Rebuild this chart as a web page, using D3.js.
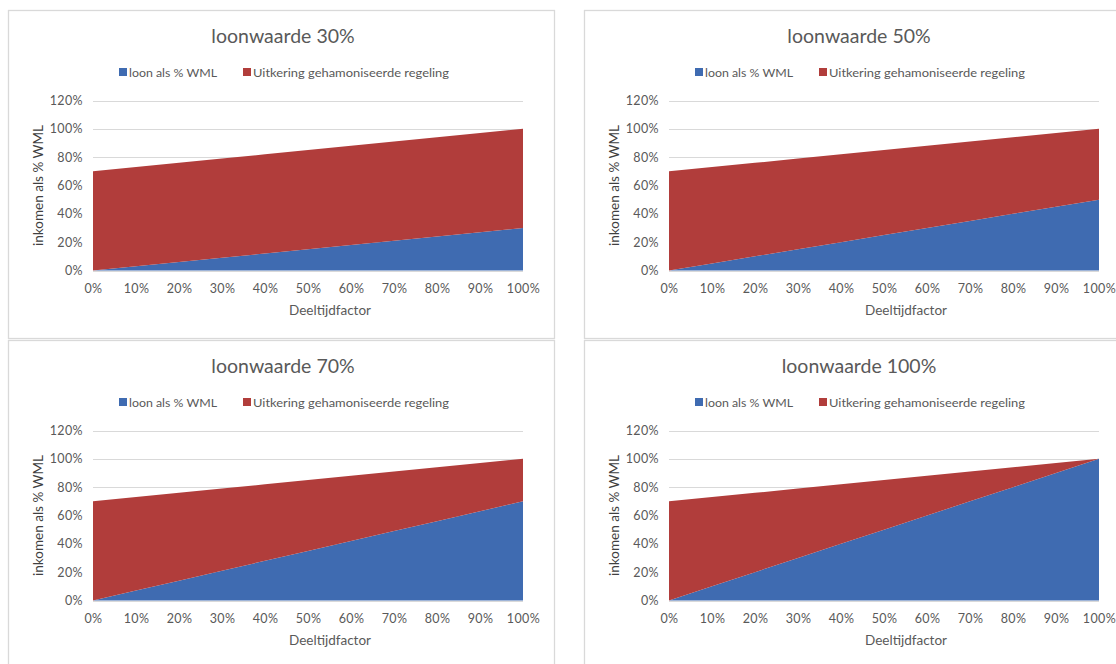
<!DOCTYPE html>
<html>
<head>
<meta charset="utf-8">
<script src="https://cdn.jsdelivr.net/npm/d3@7/dist/d3.min.js"></script>
<style>
  html, body { margin: 0; padding: 0; background: #fff; }
  svg { display: block; }
  text { font-family: Lato, "Open Sans", sans-serif; fill: #595959; }
</style>
</head>
<body>
<svg id="chart" width="1116" height="664"></svg>
<script>
// ---- data ----
const deeltijd = [0, 10, 20, 30, 40, 50, 60, 70, 80, 90, 100];
const yTicks = [0, 20, 40, 60, 80, 100, 120];
const seriesNames = ["loon als % WML", "Uitkering gehamoniseerde regeling"];
const titles = ["loonwaarde 30%", "loonwaarde 50%", "loonwaarde 70%", "loonwaarde 100%"];

const loon30  = [0, 3, 6, 9, 12, 15, 18, 21, 24, 27, 30];
const uitk30  = [70, 70, 70, 70, 70, 70, 70, 70, 70, 70, 70];
const loon50  = [0, 5, 10, 15, 20, 25, 30, 35, 40, 45, 50];
const uitk50  = [70, 68, 66, 64, 62, 60, 58, 56, 54, 52, 50];
const loon70  = [0, 7, 14, 21, 28, 35, 42, 49, 56, 63, 70];
const uitk70  = [70, 66, 62, 58, 54, 50, 46, 42, 38, 34, 30];
const loon100 = [0, 10, 20, 30, 40, 50, 60, 70, 80, 90, 100];
const uitk100 = [70, 63, 56, 49, 42, 35, 28, 21, 14, 7, 0];

const panelsData = [
  { title: titles[0], loon: loon30,  uitk: uitk30 },
  { title: titles[1], loon: loon50,  uitk: uitk50 },
  { title: titles[2], loon: loon70,  uitk: uitk70 },
  { title: titles[3], loon: loon100, uitk: uitk100 }
];

const colors = ["#3F6BB1", "#B13D3B"];

// ---- layout ----
const panelPos = [
  { x: 8,   y: 10 },
  { x: 584, y: 10 },
  { x: 8,   y: 340 },
  { x: 584, y: 340 }
];
const PW = 546, PH = 328;

const svg = d3.select("#chart");

const x = d3.scaleLinear().domain([0, 100]).range([85, 515]);
const y = d3.scaleLinear().domain([0, 120]).range([260.5, 90.5]);

panelsData.forEach((p, i) => {
  const pos = panelPos[i];
  const g = svg.append("g").attr("transform", `translate(${pos.x},${pos.y})`);

  g.append("rect").attr("x", 0.5).attr("y", 0.5).attr("width", PW).attr("height", PH)
    .attr("fill", "#fff").attr("stroke", "#D9D9D9").attr("stroke-width", 1.3);

  // title
  g.append("text").attr("x", 275).attr("y", 25).attr("text-anchor", "middle")
    .attr("dominant-baseline", "central")
    .style("font-size", "19.5px").text(p.title);

  // legend
  const leg = g.append("g").attr("transform", "translate(0,62)");
  const legX = [111, 235];
  const legW = [88, 196];
  seriesNames.forEach((n, k) => {
    leg.append("rect").attr("x", legX[k]).attr("y", -4).attr("width", 8).attr("height", 8)
      .attr("fill", colors[k]);
    leg.append("text").attr("x", legX[k] + 10).attr("y", 0).attr("dominant-baseline", "central")
      .attr("textLength", legW[k]).attr("lengthAdjust", "spacingAndGlyphs")
      .style("font-size", "12.3px").text(n);
  });

  // gridlines
  g.append("g").selectAll("line").data(yTicks).join("line")
    .attr("x1", x(0)).attr("x2", x(100))
    .attr("y1", d => Math.round(y(d)) + 0.5).attr("y2", d => Math.round(y(d)) + 0.5)
    .attr("stroke", "#D9D9D9").attr("stroke-width", 1.2);

  // stacked areas
  const rows = deeltijd.map((d, j) => ({ d: d, loon: p.loon[j], uitk: p.uitk[j] }));
  const stacked = d3.stack().keys(["loon", "uitk"])(rows);
  const area = d3.area().x(r => x(r.data.d)).y0(r => y(r[0])).y1(r => y(r[1]));
  g.append("g").selectAll("path").data(stacked).join("path")
    .attr("d", area).attr("fill", (s, k) => colors[k]);

  // y axis
  const yAxis = d3.axisLeft(y).tickValues(yTicks).tickFormat(v => v + "%").tickSize(0).tickPadding(0);
  const ya = g.append("g").attr("transform", "translate(75,0)").call(yAxis);
  ya.select(".domain").remove();
  ya.selectAll("text").style("font-size", "12.5px").style("fill", "#595959")
    .style("letter-spacing", "0.4px")
    .style("font-family", "Lato, 'Open Sans', sans-serif");

  // x axis
  const xAxis = d3.axisBottom(x).tickValues(deeltijd).tickFormat(v => v + "%").tickSize(0).tickPadding(0);
  const xa = g.append("g").attr("transform", "translate(0,274)").call(xAxis);
  xa.select(".domain").remove();
  xa.selectAll("text").style("font-size", "12.5px").style("fill", "#595959")
    .style("letter-spacing", "0.4px")
    .style("font-family", "Lato, 'Open Sans', sans-serif");

  // axis titles
  g.append("text").attr("transform", `translate(29.5,${(y(0) + y(120)) / 2}) rotate(-90)`)
    .attr("text-anchor", "middle").attr("dominant-baseline", "central")
    .style("font-size", "13.5px").style("fill", "#404040").text("inkomen als % WML");
  g.append("text").attr("x", 322).attr("y", 300).attr("text-anchor", "middle")
    .attr("dominant-baseline", "central")
    .style("font-size", "13.5px").text("Deeltijdfactor");
});
</script>
</body>
</html>
